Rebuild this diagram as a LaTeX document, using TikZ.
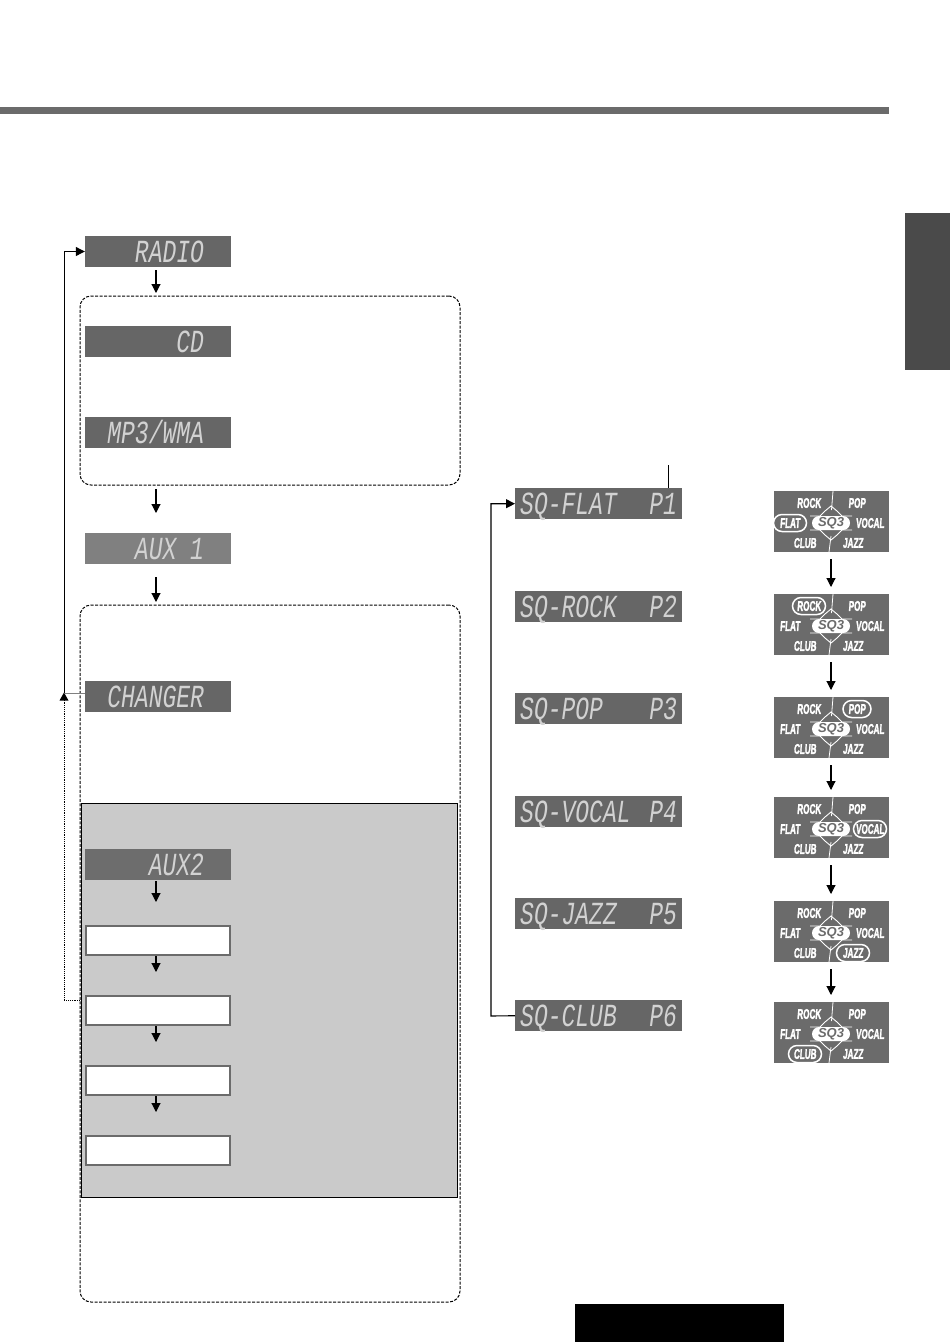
\documentclass[tikz,border=0pt]{standalone}
\usepackage{fontspec}
\usepackage{graphicx}
\setmainfont{Liberation Sans}
\newfontfamily\segfont{Liberation Mono}
\newfontfamily\panelfont{Liberation Sans}
\newfontfamily\panelheavy{Liberation Sans Bold}[FakeBold=2.5,FakeSlant=0.12]
\usetikzlibrary{arrows.meta,shapes.misc}
\definecolor{dispgrey}{HTML}{666666}
\definecolor{auxgrey}{HTML}{808080}
\definecolor{bargrey}{HTML}{6B6B6B}
\definecolor{tabgrey}{HTML}{4A4A4A}
\definecolor{shade}{HTML}{CACACA}
\definecolor{segcol}{HTML}{D2D2D2}
\newcommand{\segt}[1]{{\segfont\itshape\fontsize{23}{23}\selectfont\color{segcol}\scalebox{1}[1.4]{#1}}}
\newcommand{\segl}[1]{\makebox[146pt][r]{\segt{#1}\hspace{27pt}}}
\newcommand{\segr}[1]{\makebox[167pt][l]{\hspace{5pt}\segt{#1}}}
\tikzset{
  disp/.style={fill=dispgrey,inner sep=0pt,minimum width=146pt,minimum height=31pt,text height=22pt,text depth=0pt},
  dispsq/.style={disp,minimum width=167pt},
  blank/.style={draw=bargrey,line width=2pt,fill=white,inner sep=0pt,minimum width=144pt,minimum height=29pt},
  dashbox/.style={draw=black,dash pattern=on 3pt off 1.5pt,line width=1pt,rounded corners=11pt},
  flow/.style={-{Triangle[width=9pt,length=9pt]},line width=1.1pt,black},
  panel/.style={fill=bargrey,inner sep=0pt,minimum width=115pt,minimum height=61pt},
  sq/.style={text=white,inner sep=0pt,font=\panelheavy\fontsize{14}{14}\selectfont},
  pill/.style={fill=white,rounded rectangle,inner sep=0pt,minimum width=38pt,minimum height=14pt,text=bargrey,font=\panelfont\bfseries\itshape\fontsize{13}{13}\selectfont},
  hl/.style={draw=white,line width=1.5pt,rounded rectangle,inner sep=0pt,minimum height=17pt},
}
\newcommand{\sql}[1]{\scalebox{.58}[1]{#1}}
\newcommand{\sqpanel}[2]{%
  \node[panel,anchor=north west] (#1) at (774,#2) {};
  \begin{scope}[shift={(774,#2)}]
    \draw[white,line width=.8pt] (59,0) -- (57.5,19) (57,45) -- (55,61);
    \draw[white,line width=.9pt] (36,25) -- (46,25) -- (51,20) -- (57,15) -- (63,20) -- (68,25) -- (78,25)
      (36,39) -- (46,39) -- (51,44) -- (57,49) -- (63,44) -- (68,39) -- (78,39);
    \node[pill] (#1sq) at (57,32) {SQ3};
    \node[sq] (#1rock) at (35,12) {\sql{ROCK}};
    \node[sq] (#1pop) at (83,12) {\sql{POP}};
    \node[sq] (#1flat) at (16,32) {\sql{FLAT}};
    \node[sq] (#1vocal) at (96,32) {\sql{VOCAL}};
    \node[sq] (#1club) at (31,52) {\sql{CLUB}};
    \node[sq] (#1jazz) at (79,52) {\sql{JAZZ}};
  \end{scope}}
\begin{document}
\begin{tikzpicture}[x=1pt,y=-1pt]
\useasboundingbox (0,0) rectangle (950,1342);
\fill[white] (0,0) rectangle (950,1342);
% page furniture
\fill[bargrey] (0,107) rectangle (889,114);
\fill[tabgrey] (905,213) rectangle (950,370);
\fill[black] (575,1304) rectangle (784,1342);
% frames
\node[dashbox,minimum width=380pt,minimum height=189pt,inner sep=0pt] (frameA) at (270,390.5) {};
\node[dashbox,minimum width=380pt,minimum height=697pt,inner sep=0pt] (frameB) at (270,953.5) {};
\node[fill=shade,draw=black,line width=.8pt,inner sep=0pt,minimum width=376pt,minimum height=394pt] (shadebox) at (269,1000) {};
% left displays
\node[disp] (radio) at (158,251.5) {\segl{RADIO}};
\node[disp] (cd) at (158,341.5) {\segl{CD}};
\node[disp] (mp3) at (158,432.5) {\segl{MP3/WMA}};
\node[disp,fill=auxgrey] (auxa) at (158,548.5) {\segl{AUX~1}};
\node[disp] (changer) at (158,696.5) {\segl{CHANGER}};
\node[disp,fill=auxgrey!85!black] (auxb) at (158,864.5) {\segl{AUX2}};
\node[blank] (w1) at (158,940.5) {};
\node[blank] (w2) at (158,1010.5) {};
\node[blank] (w3) at (158,1080.5) {};
\node[blank] (w4) at (158,1150.5) {};
% left arrows
\coordinate (ra) at (156,270);
\coordinate (fa) at (156,293);
\coordinate (fas) at (156,489);
\coordinate (auxt) at (156,513);
\coordinate (auxs) at (156,577);
\coordinate (fb) at (156,602);
\coordinate (ba) at (156,881);
\coordinate (bb) at (156,902);
\coordinate (c1) at (156,956);
\coordinate (c2) at (156,972);
\coordinate (c3) at (156,1026);
\coordinate (c4) at (156,1042);
\coordinate (c5) at (156,1096);
\coordinate (c6) at (156,1112);
\draw[flow] (ra) -- (fa);
\draw[flow] (fas) -- (auxt);
\draw[flow] (auxs) -- (fb);
\draw[flow] (ba) -- (bb);
\draw[flow] (c1) -- (c2);
\draw[flow] (c3) -- (c4);
\draw[flow] (c5) -- (c6);
% return loop
\coordinate (lj) at (64.5,693);
\coordinate (ltop) at (64.5,251.5);
\coordinate (lbot) at (64,1000);
\draw[auxgrey,line width=.8pt] (changer.west |- lj) -- (lj);
\draw[flow] (lj) -- (ltop) -- (radio.west);
\draw[black,line width=1pt,dash pattern=on 1.2pt off 1pt] (80,1000) -- (lbot) -- (64,700);
\fill[black] (64,692.5) -- (59.5,700.5) -- (68.5,700.5) -- cycle;
% right displays
\node[dispsq,anchor=north west] (s1) at (515,488) {\segr{SQ-FLAT~~\hspace{5pt}P1}};
\node[dispsq,anchor=north west] (s2) at (515,591) {\segr{SQ-ROCK~~\hspace{5pt}P2}};
\node[dispsq,anchor=north west] (s3) at (515,693) {\segr{SQ-POP~~~\hspace{5pt}P3}};
\node[dispsq,anchor=north west] (s4) at (515,796) {\segr{SQ-VOCAL~\hspace{5pt}P4}};
\node[dispsq,anchor=north west] (s5) at (515,898) {\segr{SQ-JAZZ~~\hspace{5pt}P5}};
\node[dispsq,anchor=north west] (s6) at (515,1000) {\segr{SQ-CLUB~~\hspace{5pt}P6}};
\coordinate (rl) at (491,1016);
\coordinate (tick) at (668,465);
\draw[flow] (s6.west) -- (rl) -- (rl |- s1.west) -- (s1.west);
\draw[black,line width=1pt] (tick) -- (tick |- s1.north);
% panels
\sqpanel{p1}{491}
\sqpanel{p2}{594}
\sqpanel{p3}{697}
\sqpanel{p4}{797}
\sqpanel{p5}{901}
\sqpanel{p6}{1002}
\node[hl,minimum width=33pt] at (p1flat) {};
\node[hl,minimum width=33pt] at (p2rock) {};
\node[hl,minimum width=28pt] at (p3pop) {};
\node[hl,minimum width=33pt] at (p4vocal) {};
\node[hl,minimum width=33pt] at (p5jazz) {};
\node[hl,minimum width=33pt] at (p6club) {};
% panel arrows
\coordinate (a1) at (831,559);
\coordinate (a1e) at (831,587);
\coordinate (a2) at (831,662);
\coordinate (a2e) at (831,690);
\coordinate (a3) at (831,765);
\coordinate (a3e) at (831,790);
\coordinate (a4) at (831,865);
\coordinate (a4e) at (831,894);
\coordinate (a5) at (831,969);
\coordinate (a5e) at (831,995);
\draw[flow] (a1) -- (a1e);
\draw[flow] (a2) -- (a2e);
\draw[flow] (a3) -- (a3e);
\draw[flow] (a4) -- (a4e);
\draw[flow] (a5) -- (a5e);
\end{tikzpicture}
\end{document}
